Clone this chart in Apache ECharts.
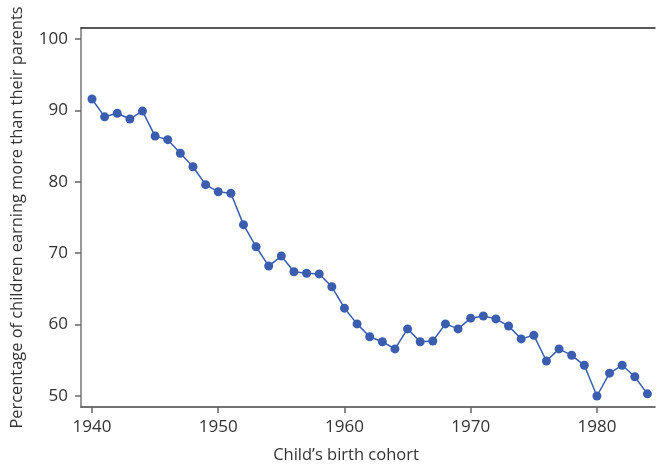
<!DOCTYPE html>
<html>
<head>
<meta charset="utf-8">
<script src="https://cdn.jsdelivr.net/npm/echarts@6/dist/echarts.min.js"></script>
<style>
  html, body { margin: 0; padding: 0; background: #fff; }
  #chart { width: 658px; height: 467px; }
</style>
</head>
<body>
<div id="chart"></div>
<script>
// birth cohorts and share of children out-earning parents
const years = [1940, 1941, 1942, 1943, 1944, 1945, 1946, 1947, 1948, 1949,
  1950, 1951, 1952, 1953, 1954, 1955, 1956, 1957, 1958, 1959,
  1960, 1961, 1962, 1963, 1964, 1965, 1966, 1967, 1968, 1969,
  1970, 1971, 1972, 1973, 1974, 1975, 1976, 1977, 1978, 1979,
  1980, 1981, 1982, 1983, 1984]
const percent = [91.6, 89.1, 89.6, 88.8, 89.9, 86.4, 85.9, 84.0, 82.1, 79.6,
  78.6, 78.4, 74.0, 70.9, 68.2, 69.6, 67.4, 67.2, 67.1, 65.3,
  62.3, 60.1, 58.3, 57.6, 56.6, 59.4, 57.6, 57.7, 60.1, 59.4,
  60.9, 61.2, 60.8, 59.8, 58.0, 58.5, 54.9, 56.6, 55.7, 54.3,
  50.0, 53.2, 54.3, 52.7, 50.3]
const xTicks = [1940, 1950, 1960, 1970, 1980]
const yTicks = [50, 60, 70, 80, 90, 100]

const font = '"Open Sans", sans-serif'
const chart = echarts.init(document.getElementById('chart'))
chart.setOption({
  animation: false,
  grid: { left: 81, right: 3, top: 28, bottom: 60, outerBoundsMode: 'none', containLabel: false },
  xAxis: [
    {
      type: 'value',
      min: 1939.13,
      max: 1984.6,
      name: 'Child\u2019s birth cohort',
      nameLocation: 'middle',
      nameGap: 40,
      nameTextStyle: { fontFamily: font, fontSize: 16.5, color: '#333', padding: [0, 44, 0, 0] },
      axisLine: { show: true, lineStyle: { color: '#444', width: 1.5 } },
      axisTick: { show: true, length: 6, customValues: xTicks, lineStyle: { color: '#666', width: 1.5 } },
      axisLabel: {
        customValues: xTicks, margin: 12, fontFamily: font, fontSize: 17, color: '#333',
        formatter: v => String(v)
      },
      splitLine: { show: false }
    },
    {
      type: 'value',
      position: 'top',
      min: 1939.13,
      max: 1984.6,
      axisLine: { show: true, lineStyle: { color: '#222', width: 1.5 } },
      axisTick: { show: false },
      axisLabel: { show: false },
      splitLine: { show: false }
    }
  ],
  yAxis: {
    type: 'value',
    min: 48.46,
    max: 101.54,
    name: 'Percentage of children earning more than their parents',
    nameLocation: 'middle',
    nameGap: 56,
    nameTextStyle: { fontFamily: font, fontSize: 16.4, color: '#333' },
    axisLine: { show: true, lineStyle: { color: '#777', width: 1.5 } },
    axisTick: { show: true, length: 6, customValues: yTicks, lineStyle: { color: '#666', width: 1.5 } },
    axisLabel: { customValues: yTicks, margin: 13, fontFamily: font, fontSize: 17, color: '#333' },
    splitLine: { show: false }
  },
  series: [
    {
      type: 'line',
      data: years.map((y, i) => [y, percent[i]]),
      symbol: 'circle',
      symbolSize: 9,
      itemStyle: { color: '#3a5daf' },
      lineStyle: { color: '#3a5daf', width: 1.5 }
    }
  ]
})
</script>
</body>
</html>
